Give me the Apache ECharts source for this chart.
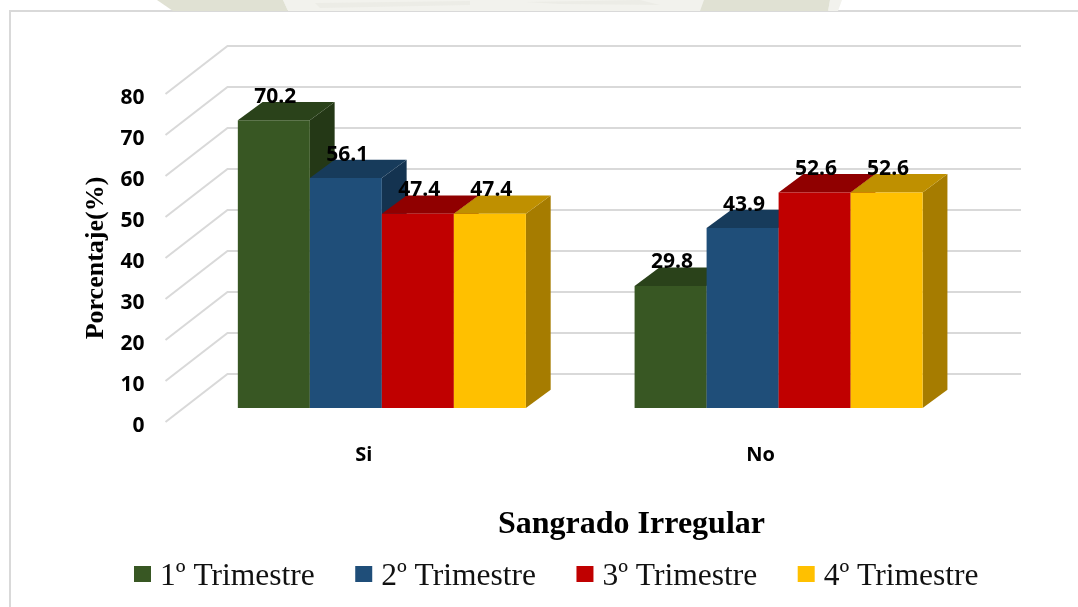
<!DOCTYPE html>
<html><head><meta charset="utf-8">
<script src="https://cdn.jsdelivr.net/npm/echarts@6/dist/echarts.min.js"></script>
<style>html,body{margin:0;padding:0;background:#fff}#c{width:1078px;height:607px}</style>
</head><body><div id="c"></div>
<script>
const categories = ['Si', 'No'];
const trimestre1 = [70.2, 29.8];
const trimestre2 = [56.1, 43.9];
const trimestre3 = [47.4, 52.6];
const trimestre4 = [47.4, 52.6];
const seriesNames = ['1º Trimestre', '2º Trimestre', '3º Trimestre', '4º Trimestre'];
const yTicks = [0, 10, 20, 30, 40, 50, 60, 70, 80];
const palette = [
  {front:'#385723', top:'#2a421a', side:'#243816'},
  {front:'#1f4e79', top:'#173b5b', side:'#143350'},
  {front:'#c00000', top:'#900000', side:'#7d0000'},
  {front:'#ffc000', top:'#bf9000', side:'#a67c00'}
];
const DEPTH_X = 62, DEPTH_Y = 48;      // full floor depth of the 3D projection
const BAR_FRONT = 0.29;                // how far back the bars' front plane sits
const BAR_DEPTH = 0.40;                // bar depth as share of floor depth
const BAR_SHARE = 0.1815;              // bar width as share of category band
const LABEL_FONT = '"Open Sans", "Noto Sans", sans-serif';
const SERIF = '"Liberation Serif", serif';

function barRender(idx) {
  const c = palette[idx];
  return function (params, api) {
    const cat = api.value(0), val = api.value(1);
    const band = api.size([1, 0])[0];
    const w = band * BAR_SHARE;
    const pTop = api.coord([cat, val]);
    const pBase = api.coord([cat, 0]);
    const ox = DEPTH_X * BAR_FRONT, oy = DEPTH_Y * BAR_FRONT;
    const l = pTop[0] + ox + (idx - 2) * w, r = l + w;
    const t = pTop[1] - oy, b = pBase[1] - oy;
    const dx = DEPTH_X * BAR_DEPTH, dy = DEPTH_Y * BAR_DEPTH * 0.955;
    return {type:'group', children:[
      {type:'polygon', shape:{points:[[r,t],[r+dx,t-dy],[r+dx,b-dy],[r,b]]}, style:{fill:c.side}},
      {type:'polygon', shape:{points:[[l,t],[l+dx,t-dy],[r+dx,t-dy],[r,t]]}, style:{fill:c.top}},
      {type:'rect', shape:{x:l,y:t,width:w,height:b-t}, style:{fill:c.front}},
      {type:'text', z2:100, style:{x:l+w/2+1.5, y:t-23.5, text:val.toFixed(1), align:'center', verticalAlign:'middle',
        font:'bold 21px ' + LABEL_FONT, fill:'#000'}}
    ]};
  };
}
function wallRender(params, api) {
  const v = api.value(0);
  const p = api.coord([0, v]);
  const cs = params.coordSys;
  return {type:'polyline', shape:{points:[[cs.x, p[1]],[cs.x+DEPTH_X, p[1]-DEPTH_Y],[cs.x+cs.width+DEPTH_X, p[1]-DEPTH_Y]]},
    style:{fill:null, stroke:'#d9d9d9', lineWidth:2}};
}
const values = [trimestre1, trimestre2, trimestre3, trimestre4];
const chart = echarts.init(document.getElementById('c'), null, {renderer:'canvas'});
chart.setOption({
  animation:false,
  backgroundColor:'#fff',
  legend:{
    data:seriesNames, left:129, top:556, itemWidth:17, itemHeight:16, itemGap:40.5,
    icon:'rect',
    formatter:n => '{a|' + n + '}',
    textStyle:{fontFamily:SERIF, fontSize:31.5, color:'#111',
      rich:{a:{fontFamily:SERIF, fontSize:31.5, color:'#111', padding:[6,0,0,4]}}}
  },
  title:{text:'Sangrado Irregular', left:498, top:509, padding:0,
    textStyle:{fontFamily:SERIF, fontWeight:'bold', fontSize:32, color:'#000'}},
  graphic:[
    {type:'polygon', silent:true, shape:{points:[[283,0],[710,0],[706,11],[288,11]]}, style:{fill:'#f2f2ed'}},
    {type:'polygon', silent:true, shape:{points:[[315,3],[470,1],[470,5],[320,8]]}, style:{fill:'#ecece6'}},
    {type:'polygon', silent:true, shape:{points:[[525,2],[640,0],[660,5],[560,4]]}, style:{fill:'#ecece6'}},
    {type:'polygon', silent:true, shape:{points:[[830,0],[842,0],[838,11],[828,11]]}, style:{fill:'#f2f2ed'}},
    {type:'polygon', silent:true, shape:{points:[[157,0],[283,0],[288,11],[173,11]]}, style:{fill:'#e0e1d3'}},
    {type:'polygon', silent:true, shape:{points:[[704,0],[830,0],[828,11],[700,11]]}, style:{fill:'#e0e1d3'}},
    {type:'rect', silent:true, shape:{x:10,y:11,width:1200,height:800}, style:{fill:'#fff', stroke:'#d9d9d9', lineWidth:2}, z:-1}
  ],
  grid:{left:165.5, right:119, top:94, bottom:185},
  xAxis:{type:'category', data:categories, axisLine:{show:false}, axisTick:{show:false}, splitLine:{show:false},
    axisLabel:{margin:23, fontFamily:LABEL_FONT, fontWeight:'bold', fontSize:20, color:'#000'}},
  yAxis:{type:'value', min:0, max:80, interval:10, axisLine:{show:false}, axisTick:{show:false}, splitLine:{show:false},
    name:'Porcentaje(%)', nameLocation:'middle', nameGap:52, nameRotate:90,
    nameTextStyle:{fontFamily:SERIF, fontWeight:'bold', fontSize:26, color:'#000'},
    axisLabel:{margin:21, verticalAlign:'top', lineHeight:8, fontFamily:LABEL_FONT, fontWeight:'bold', fontSize:21, color:'#000'}},
  series:[
    {type:'custom', name:'wall', silent:true, data:yTicks.map(v=>[v]), encode:{y:0}, renderItem:wallRender, z:1}
  ].concat(seriesNames.map((n,i)=>({
    type:'custom', name:n, z:2, itemStyle:{color:palette[i].front},
    data:values[i].map((v,j)=>[j,v]), encode:{x:0,y:1}, renderItem:barRender(i)
  })))
});
</script></body></html>
